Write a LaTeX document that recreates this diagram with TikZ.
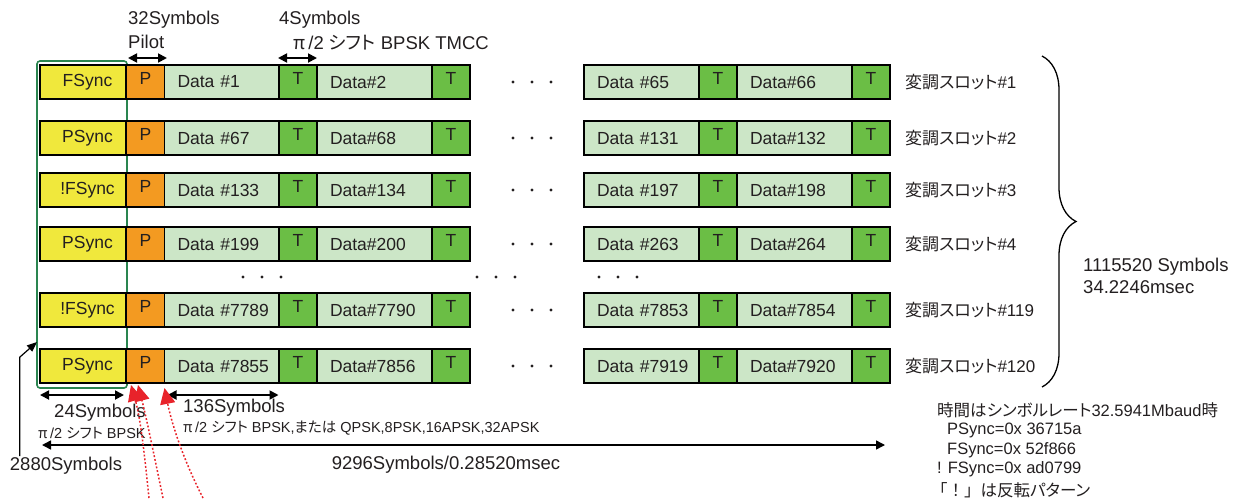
\documentclass[tikz,border=0pt]{standalone}
\usepackage{fontspec}
\setmainfont{Liberation Sans}
\newfontfamily\jp[RawFeature=+palt]{Noto Sans CJK JP}
\newfontfamily\jpvoll{Noto Sans CJK JP}
\usetikzlibrary{arrows.meta,decorations.pathreplacing,calc}

\definecolor{syncgelb}{HTML}{F0E83C}
\definecolor{pilotorange}{HTML}{F39A21}
\definecolor{datengruen}{HTML}{CCE6C7}
\definecolor{tmccgruen}{HTML}{6BBE45}
\definecolor{rahmengruen}{HTML}{2A8550}
\definecolor{textgrau}{HTML}{231F20}
\definecolor{pfeilrot}{HTML}{E8232A}

\tikzset{
  feld/.style={draw=black, line width=1.8pt, minimum height=34pt, inner sep=0pt,
    outer sep=0pt, text=textgrau, font=\fontsize{17.5}{20}\selectfont},
  syncfeld/.style={feld, fill=syncgelb, text width=86pt, align=center},
  pfeld/.style={feld, fill=pilotorange, minimum width=39pt, text depth=7pt},
  datenfeld/.style={feld, fill=datengruen, text width=89pt, inner xsep=13pt, align=left},
  tfeld/.style={feld, fill=tmccgruen, minimum width=38pt, text depth=7pt},
  beschr/.style={text=textgrau, inner sep=0pt, font=\fontsize{18.5}{22}\selectfont},
  klein/.style={text=textgrau, inner sep=0pt, font=\fontsize{14.5}{17}\selectfont},
  info/.style={text=textgrau, inner sep=0pt, anchor=west, font=\fontsize{16.5}{20}\selectfont},
  slot/.style={text=textgrau, inner sep=0pt, anchor=west, font=\fontsize{17}{20}\selectfont},
  masz/.style={{Triangle[length=9pt,width=9pt]}-{Triangle[length=9pt,width=9pt]}, line width=1.8pt},
  rotpfeil/.style={-{Triangle[length=16pt,width=15pt]}, draw=pfeilrot,
    line width=1.5pt, dash pattern=on 1.8pt off 2pt}
}

\begin{document}
\begin{tikzpicture}[x=1pt,y=-1pt]
  \useasboundingbox (0,0) rectangle (1241,498);

  % Rahmen um Sync-Felder
  \draw[rahmengruen, line width=1.6pt, rounded corners=3pt] (37,61) rectangle (127,388);
  \coordinate (rl) at (37,342);

  % Slots
  \foreach \y/\s/\a/\b/\c/\d/\n [count=\i] in {82/FSync/1/2/65/66/1,
      138/PSync/67/68/131/132/2, 190/!FSync/133/134/197/198/3,
      244/PSync/199/200/263/264/4, 310/!FSync/7789/7790/7853/7854/119,
      366/PSync/7855/7856/7919/7920/120}
  {
    \node[syncfeld] (s\i) at (83,\y) {\hspace*{9pt}\s};
    \node[pfeld] (p\i) at (145.5,\y) {P};
    \node[datenfeld] (da\i) at (222,\y) {\mbox{Data \#\a}};
    \node[tfeld] (ta\i) at (298,\y) {T};
    \node[datenfeld] (db\i) at (374.5,\y) {\mbox{Data\#\b}};
    \node[tfeld] (tb\i) at (451,\y) {T};
    \node[datenfeld] (dc\i) at (641.5,\y) {\mbox{Data \#\c}};
    \node[tfeld] (tc\i) at (718,\y) {T};
    \node[datenfeld] (dd\i) at (794.5,\y) {\mbox{Data\#\d}};
    \node[tfeld] (td\i) at (871,\y) {T};
    \node[slot] (sl\i) at (905,\y) {{\jp 変調スロット}\#\n};
    \foreach \x in {513,532,551} \fill[textgrau] (\x,\y) circle (1.6pt);
  }

  % Punkte zwischen den Zeilen
  \foreach \x in {243,262,281,477,496,515,599,618,637}
    \fill[textgrau] (\x,277) circle (1.6pt);

  % Beschriftung oben
  \node[beschr, anchor=west] (sym32) at (128,20) {32Symbols};
  \node[beschr, anchor=west] (pilot) at (128,42) {Pilot};
  \node[beschr, anchor=west] (sym4) at (279,20) {4Symbols};
  \node[beschr, anchor=west] (tmcc) at (293,43) {{\jp π}\,/2 {\jp シフト} BPSK TMCC};
  \draw[masz] ($(p1.north west)+(2,-7)$) -- ($(p1.north east)+(2,-7)$);
  \draw[masz] ($(ta1.north west)+(-1,-7)$) -- ($(ta1.north east)+(0,-7)$);

  % Klammer
  \draw[line width=1.3pt, decorate, decoration={brace, amplitude=34pt}] (1042,56) -- (1042,387);
  \node[beschr, anchor=west, align=left] (gesamt) at (1083,276) {1115520 Symbols\\34.2246msec};

  % Beschriftung unten
  \draw[masz] ($(s6.south west)+(0,12)$) -- ($(s6.south east)+(-2,12)$);
  \draw[masz] ($(da6.south west)+(3,12)$) -- ($(da6.south east)+(-1,12)$);
  \node[beschr] (sym24) at (100,413) {24Symbols};
  \node[klein, anchor=west] (bpsk) at (38,433) {{\jp π}\,/2 {\jp シフト} BPSK};
  \node[beschr, anchor=west] (sym136) at (183,408) {136Symbols};
  \node[klein, anchor=west] (mod) at (183,428) {{\jp π}\,/2 {\jp シフト} BPSK,{\jp または} QPSK,8PSK,16APSK,32APSK};
  \draw[masz, line width=1.5pt] ($(s6.south west)+(2,62)$) -- ($(td6.south east)+(-5,62)$);
  \node[beschr] (sym9296) at (446,465) {9296Symbols/0.28520msec};
  \node[beschr] (sym2880) at (66,466) {2880Symbols};
  \draw[-{Triangle[length=10pt,width=8pt]}, line width=1.2pt]
    ($(sym2880.north west)+(10,-1)$) -- ++(0,-99) -- (rl);

  % Zeitangaben
  \node[info] (zeit) at (937,410) {{\jp 時間はシンボルレート}32.5941Mbaud{\jp 時}};
  \node[info] (ps) at (947,430) {PSync=0x 36715a};
  \node[info] (fs) at (947,450) {FSync=0x 52f866};
  \node[info] (nfs) at (937,469) {! FSync=0x ad0799};
  \node[info] (inv) at (931,490) {{\jpvoll 「！」}{\jp は反転パターン}};

  % rote Pfeile
  \coordinate (r1) at (149,498);
  \coordinate (r2) at (163,498);
  \coordinate (r3) at (203,498);
  \coordinate (z1) at ($(p6.south west)+(5,2)$);
  \coordinate (z2) at ($(p6.south west)+(12,2)$);
  \coordinate (z3) at ($(da6.south west)+(0,5)$);
  \draw[rotpfeil] (r1) .. controls (145,460) and (141,420) .. (z1);
  \draw[rotpfeil] (r2) .. controls (155,460) and (147,420) .. (z2);
  \draw[rotpfeil] (r3) .. controls (181,455) and (171,420) .. (z3);
\end{tikzpicture}
\end{document}
